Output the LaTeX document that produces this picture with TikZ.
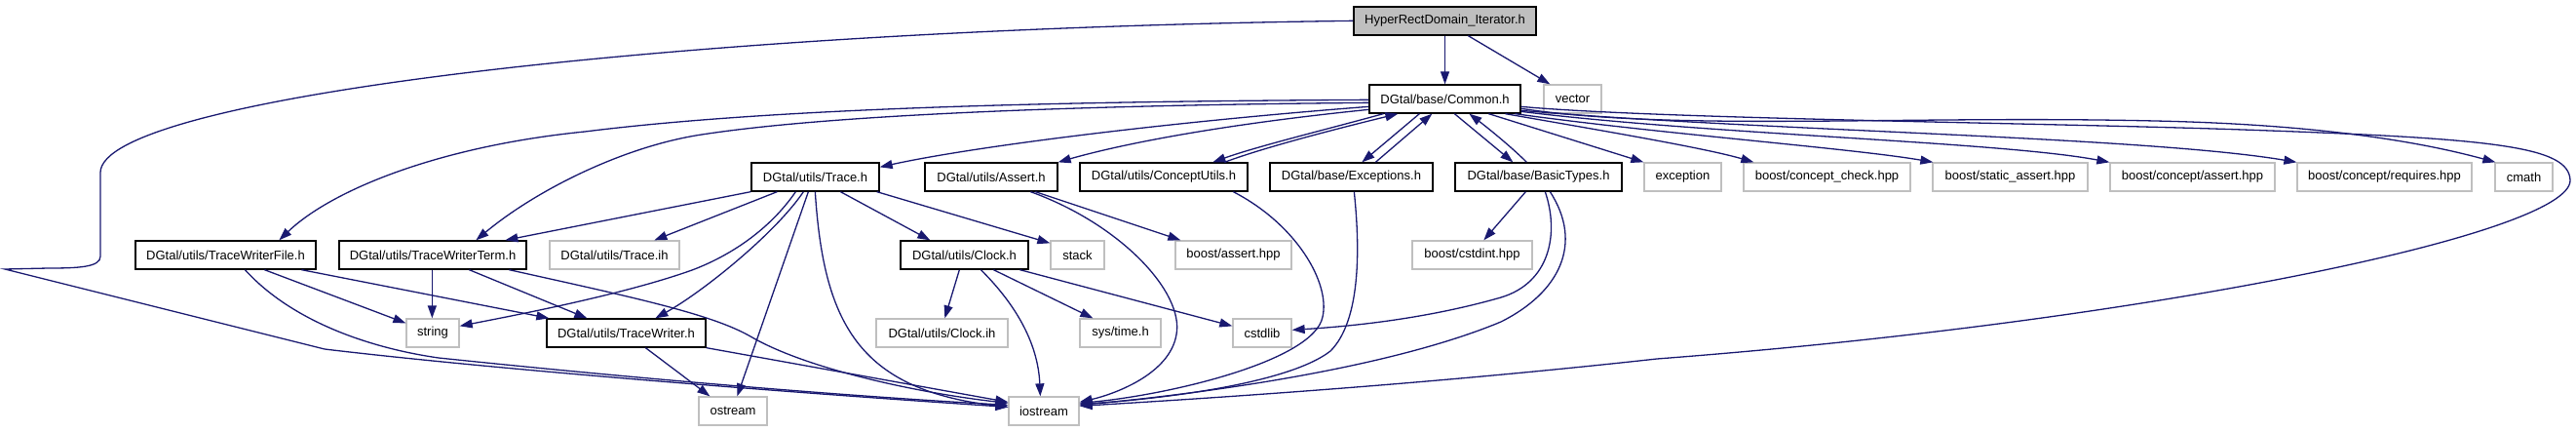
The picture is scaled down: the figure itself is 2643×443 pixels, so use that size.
\documentclass[tikz,border=0pt]{standalone}
\usepackage{fontspec}
\setmainfont{Liberation Sans}
\usetikzlibrary{arrows.meta,calc}
\definecolor{gvedge}{RGB}{25,25,112}
\definecolor{gvgray}{RGB}{191,191,191}
\newcommand\gvnode[6]{\node[#1, minimum width={(#4-#3)*0.5pt}] (#2) at ({(#3+#4)/2},#5) {#6};}
\tikzset{
  gvbase/.style={inner sep=0pt, minimum height=14.5pt, line width=0.65pt, font=\fontsize{6.5pt}{7.5pt}\selectfont},
  docbox/.style={gvbase, draw=black, fill=white},
  extbox/.style={gvbase, draw=gvgray, fill=white},
  rootbox/.style={gvbase, draw=black, fill=gvgray},
  dep/.style={draw=gvedge, line width=0.65pt, -{Triangle[length=6.5pt,width=4.5pt]}}
}
\begin{document}
\begin{tikzpicture}[x=0.5pt,y=-0.5pt]
\useasboundingbox (0,0) rectangle (2643,443);
% row 0
\gvnode{rootbox}{hr}{1389}{1576}{21.5}{HyperRectDomain\_Iterator.h}
% row 1
\gvnode{docbox}{common}{1405}{1560}{101.5}{DGtal/base/Common.h}
\gvnode{extbox}{vector}{1584}{1643}{101.5}{vector}
% row 2
\gvnode{docbox}{trace}{771}{902}{181.5}{DGtal/utils/Trace.h}
\gvnode{docbox}{assert}{949}{1085}{181.5}{DGtal/utils/Assert.h}
\gvnode{docbox}{concept}{1108}{1280}{181.5}{DGtal/utils/ConceptUtils.h}
\gvnode{docbox}{except}{1303}{1470}{181.5}{DGtal/base/Exceptions.h}
\gvnode{docbox}{basic}{1493}{1664}{181.5}{DGtal/base/BasicTypes.h}
\gvnode{extbox}{exception}{1687}{1766}{181.5}{exception}
\gvnode{extbox}{cc}{1789}{1960}{181.5}{boost/concept\_check.hpp}
\gvnode{extbox}{sa}{1983}{2142}{181.5}{boost/static\_assert.hpp}
\gvnode{extbox}{ca}{2165}{2334}{181.5}{boost/concept/assert.hpp}
\gvnode{extbox}{cr}{2357}{2536}{181.5}{boost/concept/requires.hpp}
\gvnode{extbox}{cmath}{2560}{2619}{181.5}{cmath}
% row 3
\gvnode{docbox}{twf}{139}{324}{261.5}{DGtal/utils/TraceWriterFile.h}
\gvnode{docbox}{twt}{348}{540}{261.5}{DGtal/utils/TraceWriterTerm.h}
\gvnode{extbox}{traceih}{564}{697}{261.5}{DGtal/utils/Trace.ih}
\gvnode{docbox}{clock}{924}{1055}{261.5}{DGtal/utils/Clock.h}
\gvnode{extbox}{stack}{1078}{1133}{261.5}{stack}
\gvnode{extbox}{bassert}{1206}{1325}{261.5}{boost/assert.hpp}
\gvnode{extbox}{cstdint}{1449}{1572}{261.5}{boost/cstdint.hpp}
% row 4
\gvnode{extbox}{string}{417}{471}{341.5}{string}
\gvnode{docbox}{tw}{561}{724}{341.5}{DGtal/utils/TraceWriter.h}
\gvnode{extbox}{clockih}{899}{1034}{341.5}{DGtal/utils/Clock.ih}
\gvnode{extbox}{systime}{1108}{1191}{341.5}{sys/time.h}
\gvnode{extbox}{cstdlib}{1265}{1325}{341.5}{cstdlib}
% row 5
\gvnode{extbox}{ostream}{717}{787}{421.5}{ostream}
\gvnode{extbox}{iostream}{1035}{1107}{421.5}{iostream}

% edges from root
\draw[dep] (hr.south) -- (common.north);
\draw[dep] ($(hr.south west)+(118,0)$) -- ($(vector.north west)+(7,0)$);
\draw[dep] ($(hr.north west)+(0,15)$) .. controls (700,30) and (103,100) .. (103,177) -- (103,263) .. controls (103,274) and (80,275) .. (50,275) -- (5,276) -- (333,358) .. controls (500,378) and (800,402) .. ($(iostream.north west)+(0,11)$);

% edges from Common.h
\draw[dep] ($(common.north west)+(0,23)$) .. controls (1200,125) and (1000,150) .. ($(trace.north east)+(0,5)$);
\draw[dep] ($(common.north west)+(0,26)$) .. controls (1250,128) and (1150,148) .. (assert.north east);
\draw[dep] ($(common.south west)+(15,0)$) .. controls (1360,133) and (1290,150) .. ($(concept.north west)+(137,0)$);
\draw[dep] ($(concept.north west)+(149,0)$) .. controls (1300,150) and (1380,130) .. ($(common.south west)+(30,0)$);
\draw[dep] ($(common.south west)+(52,0)$) -- ($(except.north west)+(95,0)$);
\draw[dep] ($(except.north west)+(109,0)$) -- ($(common.south west)+(65,0)$);
\draw[dep] ($(common.south west)+(88,0)$) -- ($(basic.north west)+(60,0)$);
\draw[dep] ($(basic.north west)+(74,0)$) .. controls (1550,150) and (1525,130) .. ($(common.south west)+(103,0)$);
\draw[dep] ($(common.south west)+(123,0)$) -- (exception.north west);
\draw[dep] ($(common.south west)+(140,0)$) .. controls (1650,135) and (1750,152) .. ($(cc.north west)+(11,0)$);
\draw[dep] ($(common.south west)+(150,0)$) .. controls (1700,137) and (1900,152) .. ($(sa.north west)+(1,0)$);
\draw[dep] ($(common.north east)+(0,28)$) .. controls (1750,138) and (2050,145) .. (ca.north west);
\draw[dep] ($(common.north east)+(0,27)$) .. controls (1800,134) and (2200,140) .. (cr.north west);
\draw[dep] ($(common.north east)+(0,25)$) .. controls (1720,135) and (1950,118) .. (2211,124) .. controls (2400,128) and (2500,150) .. ($(cmath.north west)+(1,0)$);
\draw[dep] ($(common.north east)+(0,23)$) .. controls (1700,122) and (2100,126) .. (2301,133) .. controls (2560,142) and (2636,150) .. (2637,185) .. controls (2637,240) and (2200,330) .. (1700,368) .. controls (1500,390) and (1300,405) .. ($(iostream.north east)+(0,10)$);
\draw[dep] ($(common.north west)+(0,16)$) .. controls (1100,104) and (800,110) .. (600,135) .. controls (450,150) and (340,195) .. ($(twf.north west)+(148,0)$);
\draw[dep] ($(common.north west)+(0,19)$) .. controls (1100,108) and (850,118) .. (720,138) .. controls (640,150) and (550,195) .. ($(twt.north west)+(141,0)$);

% edges from Trace.h
\draw[dep] (trace.south west) -- ($(twt.north west)+(171,0)$);
\draw[dep] ($(trace.south west)+(27,0)$) -- ($(traceih.north west)+(108,0)$);
\draw[dep] ($(trace.south west)+(46,0)$) .. controls (790,235) and (750,262) .. (710,277) .. controls (640,302) and (530,323) .. ($(string.north east)+(0,8)$);
\draw[dep] ($(trace.south west)+(54,0)$) .. controls (795,240) and (720,300) .. ($(tw.north west)+(112,0)$);
\draw[dep] ($(trace.south west)+(59,0)$) -- ($(ostream.north west)+(40,0)$);
\draw[dep] ($(trace.south west)+(66,0)$) .. controls (845,330) and (880,400) .. ($(iostream.north west)+(0,11)$);
\draw[dep] ($(trace.south west)+(92,0)$) -- ($(clock.north west)+(31,0)$);
\draw[dep] ($(trace.south east)+(-3,0)$) -- ($(stack.north west)+(0,3)$);

% TraceWriterFile.h
\draw[dep] ($(twf.south west)+(133,0)$) -- ($(string.north west)+(0,5)$);
\draw[dep] ($(twf.south west)+(171,0)$) -- ($(tw.north west)+(3,0)$);
\draw[dep] ($(twf.south west)+(113,0)$) .. controls (300,330) and (380,357) .. (450,367) .. controls (700,393) and (900,408) .. ($(iostream.north west)+(0,9)$);

% TraceWriterTerm.h
\draw[dep] ($(twt.south west)+(96,0)$) -- ($(string.north west)+(27,0)$);
\draw[dep] ($(twt.south west)+(134,0)$) -- ($(tw.north west)+(42,0)$);
\draw[dep] ($(twt.south west)+(175,0)$) .. controls (650,305) and (730,322) .. (770,345) .. controls (830,380) and (950,404) .. ($(iostream.north west)+(0,7)$);

% TraceWriter.h
\draw[dep] ($(tw.south west)+(102,0)$) -- ($(ostream.north west)+(12,0)$);
\draw[dep] (tw.south east) -- ($(iostream.north west)+(0,6)$);

% Clock.h
\draw[dep] ($(clock.south west)+(61,0)$) -- ($(clockih.north west)+(71,0)$);
\draw[dep] ($(clock.south west)+(83,0)$) .. controls (1040,310) and (1065,350) .. ($(iostream.north west)+(33,0)$);
\draw[dep] ($(clock.south west)+(96,0)$) -- ($(systime.north west)+(14,0)$);
\draw[dep] ($(clock.south west)+(123,0)$) -- ($(cstdlib.north west)+(0,8)$);

% Assert.h
\draw[dep] ($(assert.south west)+(114,0)$) -- ($(bassert.north west)+(6,0)$);
\draw[dep] ($(assert.south west)+(109,0)$) .. controls (1150,230) and (1215,300) .. (1207,343) .. controls (1200,385) and (1140,405) .. ($(iostream.north east)+(0,6)$);

% ConceptUtils.h, Exceptions.h
\draw[dep] ($(concept.south west)+(158,0)$) .. controls (1330,230) and (1365,290) .. (1357,325) .. controls (1348,370) and (1200,405) .. ($(iostream.north east)+(0,7)$);
\draw[dep] ($(except.south west)+(87,0)$) .. controls (1396,260) and (1395,330) .. (1365,360) .. controls (1320,395) and (1180,410) .. ($(iostream.north east)+(0,8)$);

% BasicTypes.h
\draw[dep] ($(basic.south west)+(73,0)$) -- ($(cstdint.north west)+(74,0)$);
\draw[dep] ($(basic.south west)+(93,0)$) .. controls (1600,240) and (1590,290) .. (1540,305) .. controls (1460,328) and (1380,335) .. ($(cstdlib.north east)+(0,12)$);
\draw[dep] ($(basic.south west)+(98,0)$) .. controls (1625,250) and (1600,300) .. (1540,330) .. controls (1420,380) and (1220,405) .. ($(iostream.north east)+(0,9)$);
\end{tikzpicture}
\end{document}
